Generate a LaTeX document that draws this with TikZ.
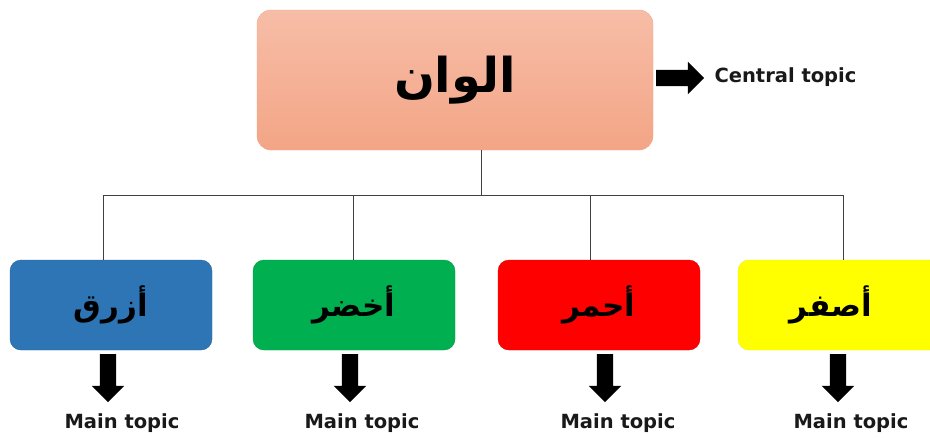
\documentclass[tikz,border=0pt]{standalone}
\usepackage{fontspec}
\setmainfont{DejaVu Sans}
\newfontfamily\arabicfont[Script=Arabic]{DejaVu Sans}
\TeXXeTstate=1
\usetikzlibrary{shapes.arrows}
\definecolor{salmonT}{HTML}{F7BDA7}
\definecolor{salmonB}{HTML}{F3A586}
\definecolor{cblue}{HTML}{2E75B6}
\definecolor{cgreen}{HTML}{00B050}
\definecolor{cred}{HTML}{FF0000}
\definecolor{cyellow}{HTML}{FFFF00}
\tikzset{
  topbox/.style={rounded corners=14pt, top color=salmonT, bottom color=salmonB, draw=salmonB,
    minimum width=396pt, minimum height=140pt, inner sep=0pt},
  subbox/.style={rounded corners=11pt, minimum width=202pt, minimum height=90pt, inner sep=0pt},
  artext/.style={font=\arabicfont\bfseries\fontsize{31}{36}\selectfont, text=black},
  conn/.style={draw=black!75, line width=0.9pt},
  blockarr/.style={single arrow, fill=black, draw=none, inner sep=8pt, minimum height=48pt,
    single arrow head extend=8pt, single arrow head indent=0pt, single arrow tip angle=90},
  lbl/.style={font=\bfseries\fontsize{19.5}{23}\selectfont, text=black!90}
}
\begin{document}
\begin{tikzpicture}[x=1pt,y=-1pt]
\useasboundingbox (0,0) rectangle (930,437);
\clip (0,0) rectangle (930,437);
% central node
\node[topbox] (top) at (455,80) {\arabicfont\bfseries\fontsize{48}{56}\selectfont\beginR الوان\endR};
% main nodes
\node[subbox, fill=cblue, draw=cblue!85!black] (blue) at (111,305) {};
\node[artext] (tblue) at (blue.center) {\beginR أزرق\endR};
\node[subbox, fill=cgreen, draw=cgreen!90!black] (green) at (354,305) {};
\node[artext] (tgreen) at (green.center) {\beginR أخضر\endR};
\node[subbox, fill=cred, draw=cred!90!black] (red) at (599,305) {};
\node[artext] (tred) at (red.center) {\beginR أحمر\endR};
\node[subbox, fill=cyellow, draw=cyellow!95!black] (yellow) at (839,305) {};
\node[artext] (tyellow) at (831,305) {\beginR أصفر\endR};
% bus connectors
\coordinate (j) at (481,195);
\coordinate (b1) at (103,195);
\coordinate (b2) at (353,195);
\coordinate (b3) at (590,195);
\coordinate (b4) at (843,195);
\draw[conn] (top.south -| j) -- (j);
\draw[conn] (b1) -- (b4);
\draw[conn] (b1) -- (b1 |- blue.north);
\draw[conn] (b2) -- (b2 |- green.north);
\draw[conn] (b3) -- (b3 |- red.north);
\draw[conn] (b4) -- (b4 |- yellow.north);
% central topic arrow and label
\node[blockarr] (carr) at (676,78) {};
\node[lbl, anchor=west] (clbl) at (711,77) {Central topic};
% main topic arrows and labels
\node[blockarr, rotate=-90] (a1) at (108,374) {};
\node[blockarr, rotate=-90] (a2) at (350,374) {};
\node[blockarr, rotate=-90] (a3) at (605,374) {};
\node[blockarr, rotate=-90] (a4) at (838,374) {};
\node[lbl] (l1) at (122,423) {Main topic};
\node[lbl] (l2) at (362,423) {Main topic};
\node[lbl] (l3) at (618,423) {Main topic};
\node[lbl] (l4) at (851,423) {Main topic};
\end{tikzpicture}
\end{document}
